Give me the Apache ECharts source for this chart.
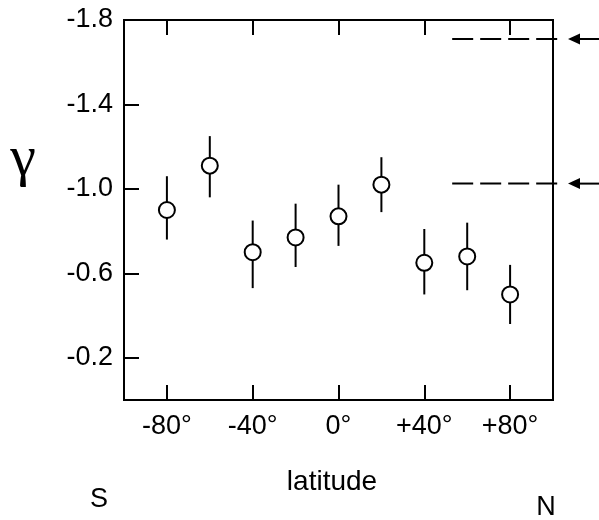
<!DOCTYPE html>
<html>
<head>
<meta charset="utf-8">
<script src="https://cdn.jsdelivr.net/npm/echarts@6/dist/echarts.min.js"></script>
<style>
html,body{margin:0;padding:0;background:#fff;}
#chart{width:599px;height:520px;}
</style>
</head>
<body>
<div id="chart"></div>
<script>
// Data
var latitudes = [-80, -60, -40, -20, 0, 20, 40, 60, 80];
var gammaValues = [-0.90, -1.11, -0.70, -0.77, -0.87, -1.02, -0.65, -0.68, -0.50];
var gammaLow = [-0.76, -0.96, -0.53, -0.63, -0.73, -0.89, -0.50, -0.52, -0.36];
var gammaHigh = [-1.06, -1.25, -0.85, -0.93, -1.02, -1.15, -0.81, -0.84, -0.64];
var xTickValues = [-80, -40, 0, 40, 80];
var xTickLabels = ['-80°', '-40°', '0°', '+40°', '+80°'];
var yTickValues = [-1.8, -1.4, -1.0, -0.6, -0.2];
var yTickLabels = ['-1.8', '-1.4', '-1.0', '-0.6', '-0.2'];
var refValues = [-1.71, -1.025];
var refDashLat = [53, 102.5];
var refArrowLat = [107, 124];

var chart = echarts.init(document.getElementById('chart'), null, {renderer: 'canvas'});
var FONT = '"Liberation Sans", Arial, sans-serif';

var errData = latitudes.map(function (lat, i) { return [lat, gammaLow[i], gammaHigh[i]]; });
var ptData = latitudes.map(function (lat, i) { return [lat, gammaValues[i]]; });

function xLabel(v) {
  var idx = xTickValues.indexOf(v);
  return idx >= 0 ? xTickLabels[idx] : '';
}
function yLabel(v) {
  for (var i = 0; i < yTickValues.length; i++) {
    if (Math.abs(yTickValues[i] - v) < 1e-6) return yTickLabels[i];
  }
  return '';
}

var option = {
  backgroundColor: '#fff',
  animation: false,
  grid: {
    left: 124, top: 20, right: 46, bottom: 120,
    show: true, borderColor: '#000', borderWidth: 2, backgroundColor: 'transparent'
  },
  xAxis: [{
    type: 'value', min: -100, max: 100, position: 'bottom',
    splitLine: {show: false},
    axisLine: {show: true, onZero: false, lineStyle: {color: '#000', width: 2}},
    axisTick: {show: true, inside: true, length: 15, lineStyle: {color: '#000', width: 2}, customValues: xTickValues},
    axisLabel: {show: true, color: '#000', fontSize: 27, fontFamily: FONT, margin: 13, customValues: xTickValues, formatter: xLabel}
  }, {
    type: 'value', min: -100, max: 100, position: 'top',
    splitLine: {show: false},
    axisLine: {show: true, onZero: false, lineStyle: {color: '#000', width: 2}},
    axisTick: {show: true, inside: true, length: 15, lineStyle: {color: '#000', width: 2}, customValues: xTickValues},
    axisLabel: {show: false}
  }],
  yAxis: {
    type: 'value', min: -1.8, max: 0, inverse: true, position: 'left',
    splitLine: {show: false},
    axisLine: {show: true, onZero: false, lineStyle: {color: '#000', width: 2}},
    axisTick: {show: true, inside: true, length: 15, lineStyle: {color: '#000', width: 2}, customValues: yTickValues},
    axisLabel: {show: true, color: '#000', fontSize: 27, fontFamily: FONT, margin: 11, customValues: yTickValues, formatter: yLabel}
  },
  series: [{
    type: 'custom',
    name: 'error',
    data: errData,
    encode: {x: 0, y: [1, 2]},
    renderItem: function (params, api) {
      var x = api.value(0);
      var a = api.coord([x, api.value(1)]);
      var b = api.coord([x, api.value(2)]);
      return {
        type: 'line',
        shape: {x1: a[0], y1: a[1], x2: b[0], y2: b[1]},
        style: {stroke: '#000', lineWidth: 2}
      };
    },
    z: 2
  }, {
    type: 'scatter',
    name: 'gamma',
    data: ptData,
    symbol: 'circle',
    symbolSize: 16,
    itemStyle: {color: '#fff', borderColor: '#000', borderWidth: 2, opacity: 1},
    z: 3
  }, {
    type: 'custom',
    name: 'ref',
    data: refValues.map(function (v) { return [v]; }),
    encode: {y: 0},
    clip: false,
    renderItem: function (params, api) {
      var v = api.value(0);
      var d0 = api.coord([refDashLat[0], v]);
      var d1 = api.coord([refDashLat[1], v]);
      var head = api.coord([refArrowLat[0], v]);
      var tail = api.coord([refArrowLat[1], v]);
      var y = d0[1];
      return {
        type: 'group',
        children: [{
          type: 'line',
          shape: {x1: d0[0], y1: y, x2: d1[0], y2: y},
          style: {stroke: '#000', lineWidth: 2, lineDash: [21, 7]}
        }, {
          type: 'line',
          shape: {x1: head[0] + 6, y1: y, x2: tail[0], y2: y},
          style: {stroke: '#000', lineWidth: 2}
        }, {
          type: 'polygon',
          shape: {points: [[head[0], y], [head[0] + 12, y - 5.5], [head[0] + 12, y + 5.5]]},
          style: {fill: '#000'}
        }]
      };
    },
    z: 4
  }],
  graphic: [{
    type: 'text', x: 23, y: 160,
    style: {text: 'γ', font: '58px "Liberation Serif", "Times New Roman", serif', fill: '#000', align: 'center', verticalAlign: 'middle'}
  }, {
    type: 'text', x: 332, y: 482,
    style: {text: 'latitude', font: '28px ' + FONT, fill: '#000', align: 'center', verticalAlign: 'middle'}
  }, {
    type: 'text', x: 99, y: 500,
    style: {text: 'S', font: '27px ' + FONT, fill: '#000', align: 'center', verticalAlign: 'middle'}
  }, {
    type: 'text', x: 546, y: 508,
    style: {text: 'N', font: '27px ' + FONT, fill: '#000', align: 'center', verticalAlign: 'middle'}
  }]
};
chart.setOption(option);
</script>
</body>
</html>
